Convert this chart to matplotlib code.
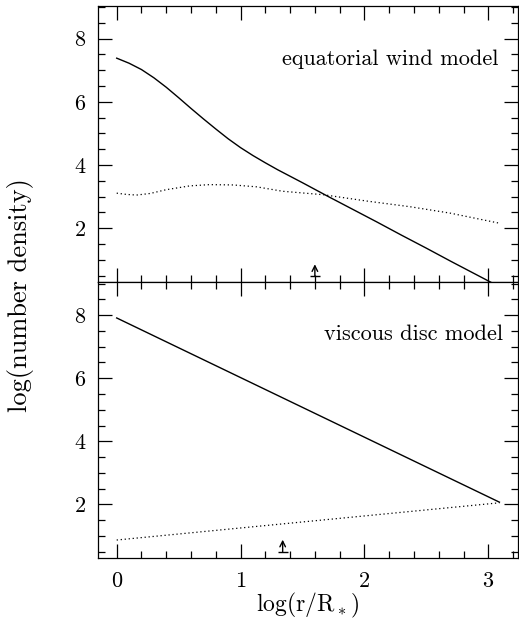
import numpy as np
import matplotlib
matplotlib.use("Agg")
import matplotlib.pyplot as plt
from matplotlib.ticker import MultipleLocator

# ---- data ----
# top panel: equatorial wind model
wind_x_solid = [0.0, 0.1, 0.2, 0.3, 0.4, 0.5, 0.6, 0.7, 0.8, 0.9, 1.0, 1.1, 1.2, 1.3, 1.5, 1.7, 1.9, 2.1, 2.3, 2.5, 2.7, 2.9, 3.09]
wind_y_solid = [7.38, 7.22, 7.02, 6.76, 6.46, 6.13, 5.79, 5.46, 5.14, 4.83, 4.55, 4.30, 4.07, 3.85, 3.44, 3.02, 2.61, 2.20, 1.78, 1.37, 0.95, 0.54, 0.15]
wind_x_dot = [0.0, 0.08, 0.16, 0.27, 0.40, 0.59, 0.75, 0.94, 1.13, 1.34, 1.67, 2.02, 2.37, 2.69, 3.09]
wind_y_dot = [3.11, 3.07, 3.05, 3.10, 3.22, 3.34, 3.38, 3.37, 3.31, 3.17, 3.06, 2.86, 2.68, 2.48, 2.16]
wind_arrow_x = 1.60

# bottom panel: viscous disc model
disc_x_solid = [0.0, 3.09]
disc_y_solid = [7.91, 2.07]
disc_x_dot = [0.0, 3.09]
disc_y_dot = [0.87, 2.05]
disc_arrow_x = 1.34

panel_labels = ["equatorial wind model", "viscous disc model"]
xlabel = r"log(r/R$_*$)"
ylabel = "log(number density)"

plt.rcParams['font.family'] = 'cmr10'
plt.rcParams['mathtext.fontset'] = 'cm'
plt.rcParams['axes.formatter.use_mathtext'] = True

W, H = 519, 621
fig = plt.figure(figsize=(W / 100, H / 100), dpi=100)

left = 97.5 / W
right = 518.0 / W
top = 1 - 6.0 / H
mid = 1 - 282.0 / H
bot = 1 - 558.0 / H

ax1 = fig.add_axes([left, mid, right - left, top - mid])
ax2 = fig.add_axes([left, bot, right - left, mid - bot], sharex=ax1)

fs = 16
for ax in (ax1, ax2):
    ax.set_xlim(-0.155, 3.24)
    ax.xaxis.set_major_locator(MultipleLocator(1))
    ax.xaxis.set_minor_locator(MultipleLocator(0.2))
    ax.yaxis.set_major_locator(MultipleLocator(2))
    ax.yaxis.set_minor_locator(MultipleLocator(0.5))
    ax.tick_params(which='both', direction='in', top=True, right=True, width=0.9, colors='black')
    ax.tick_params(which='major', length=10)
    ax.tick_params(which='minor', length=5)
    ax.tick_params(axis='y', which='major', pad=8, labelsize=fs)
    ax.tick_params(axis='x', which='major', pad=10, labelsize=fs)
    for s in ax.spines.values():
        s.set_linewidth(0.9)

ax1.set_ylim(0.3, 9.03)
ax2.set_ylim(0.3, 9.05)
ax1.tick_params(axis='x', labelbottom=False)

# top panel
ax1.plot(wind_x_solid, wind_y_solid, color='black', lw=1.0)
ax1.plot(wind_x_dot, wind_y_dot, color='black', lw=0.9, linestyle=(0, (1, 2.2)))
ax1.annotate('', xy=(wind_arrow_x, 0.86), xytext=(wind_arrow_x, 0.49),
             arrowprops=dict(arrowstyle='->', lw=1.0, color='black', shrinkA=0, shrinkB=0,
                             mutation_scale=10))
ax1.plot([wind_arrow_x], [0.49], marker='_', ms=7, mew=1.0, color='black')
ax1.text(3.085, 7.15, panel_labels[0], ha='right', va='baseline', fontsize=fs)

# bottom panel
ax2.plot(disc_x_solid, disc_y_solid, color='black', lw=1.0)
ax2.plot(disc_x_dot, disc_y_dot, color='black', lw=0.9, linestyle=(0, (1, 2.2)))
ax2.annotate('', xy=(disc_arrow_x, 0.88), xytext=(disc_arrow_x, 0.50),
             arrowprops=dict(arrowstyle='->', lw=1.0, color='black', shrinkA=0, shrinkB=0,
                             mutation_scale=10))
ax2.plot([disc_arrow_x], [0.50], marker='_', ms=7, mew=1.0, color='black')
ax2.text(3.12, 7.21, panel_labels[1], ha='right', va='baseline', fontsize=fs)

fig.text(308 / W, 1 - 611 / H, xlabel, ha='center', va='baseline', fontsize=17)
fig.text(21 / W, 1 - 295 / H, ylabel, ha='center', va='center', rotation=90, fontsize=19)

fig.savefig('out.png', dpi=100)
